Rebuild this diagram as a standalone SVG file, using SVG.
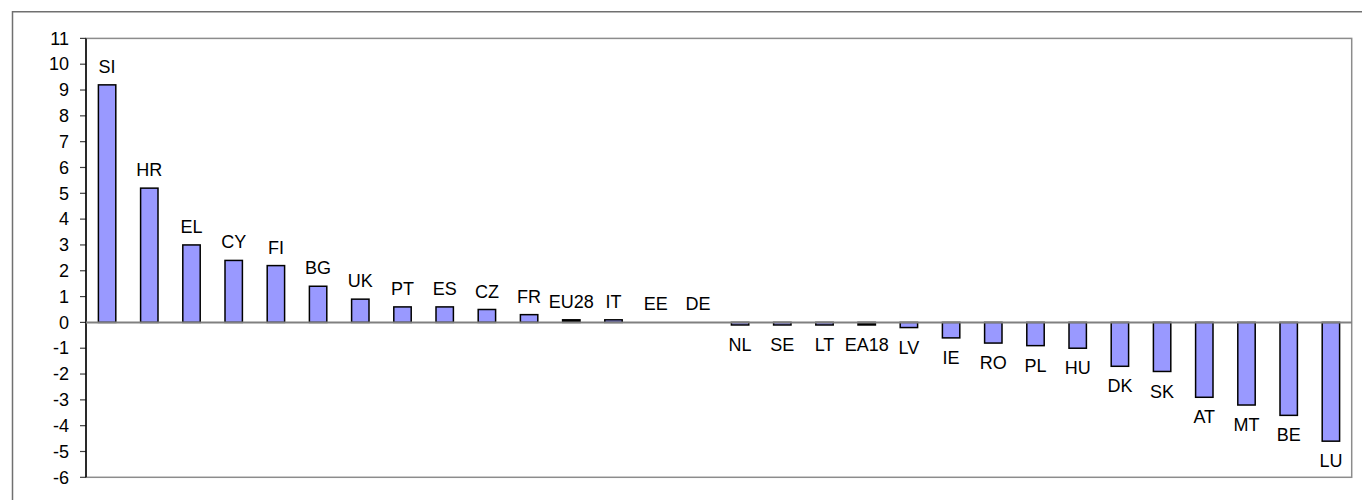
<svg xmlns="http://www.w3.org/2000/svg" width="1362" height="500" viewBox="0 0 1362 500">
<style>
text{font-family:"Liberation Sans",Arial,sans-serif;font-size:18px;fill:#000}
.tl{text-anchor:end}
.bl{text-anchor:middle}
.bar{fill:#9999FF;stroke:#000;stroke-width:1.5}
.bk{fill:#000;stroke:#000;stroke-width:1.5}
.tk{stroke:#404040;stroke-width:1.2}
</style>
<rect width="1362" height="500" fill="#fff"/>
<g id="frame">
<path d="M12.5 510 V11.7 H1370" fill="none" stroke="#707070" stroke-width="1.5"/>
<rect x="86" y="38.4" width="1265.7" height="438.9" fill="#fff" stroke="#8c8c8c" stroke-width="1.5"/>
</g>
<g id="axis">
<g class="tk">
<line x1="80" y1="38.38" x2="86" y2="38.38"/><line x1="80" y1="64.2" x2="86" y2="64.2"/><line x1="80" y1="90.02" x2="86" y2="90.02"/><line x1="80" y1="115.84" x2="86" y2="115.84"/><line x1="80" y1="141.66" x2="86" y2="141.66"/><line x1="80" y1="167.48" x2="86" y2="167.48"/><line x1="80" y1="193.3" x2="86" y2="193.3"/><line x1="80" y1="219.12" x2="86" y2="219.12"/><line x1="80" y1="244.94" x2="86" y2="244.94"/><line x1="80" y1="270.76" x2="86" y2="270.76"/><line x1="80" y1="296.58" x2="86" y2="296.58"/><line x1="80" y1="322.4" x2="86" y2="322.4"/><line x1="80" y1="348.22" x2="86" y2="348.22"/><line x1="80" y1="374.04" x2="86" y2="374.04"/><line x1="80" y1="399.86" x2="86" y2="399.86"/><line x1="80" y1="425.68" x2="86" y2="425.68"/><line x1="80" y1="451.5" x2="86" y2="451.5"/><line x1="80" y1="477.32" x2="86" y2="477.32"/>
</g>
<line x1="86" y1="38.4" x2="86" y2="477.3" stroke="#000" stroke-width="1.5"/>
<text class="tl" x="69" y="44.6">11</text><text class="tl" x="69" y="70.4">10</text><text class="tl" x="69" y="96.2">9</text><text class="tl" x="69" y="122">8</text><text class="tl" x="69" y="147.9">7</text><text class="tl" x="69" y="173.7">6</text><text class="tl" x="69" y="199.5">5</text><text class="tl" x="69" y="225.3">4</text><text class="tl" x="69" y="251.1">3</text><text class="tl" x="69" y="277">2</text><text class="tl" x="69" y="302.8">1</text><text class="tl" x="69" y="328.6">0</text><text class="tl" x="69" y="354.4">-1</text><text class="tl" x="69" y="380.2">-2</text><text class="tl" x="69" y="406.1">-3</text><text class="tl" x="69" y="431.9">-4</text><text class="tl" x="69" y="457.7">-5</text><text class="tl" x="69" y="483.5">-6</text>
</g>
<g id="bars">
<rect class="bar" x="98.4" y="84.86" width="17.4" height="237.54"/>
<rect class="bar" x="140.6" y="188.14" width="17.4" height="134.26"/>
<rect class="bar" x="182.8" y="244.94" width="17.4" height="77.46"/>
<rect class="bar" x="225" y="260.43" width="17.4" height="61.97"/>
<rect class="bar" x="267.2" y="265.6" width="17.4" height="56.8"/>
<rect class="bar" x="309.4" y="286.25" width="17.4" height="36.15"/>
<rect class="bar" x="351.6" y="299.16" width="17.4" height="23.24"/>
<rect class="bar" x="393.8" y="306.91" width="17.4" height="15.49"/>
<rect class="bar" x="436" y="306.91" width="17.4" height="15.49"/>
<rect class="bar" x="478.2" y="309.49" width="17.4" height="12.91"/>
<rect class="bar" x="520.4" y="314.65" width="17.4" height="7.75"/>
<rect class="bk" x="562.6" y="319.82" width="17.4" height="2.58"/>
<rect class="bar" x="604.8" y="319.82" width="17.4" height="2.58"/>
<rect class="bar" x="731.4" y="322.4" width="17.4" height="2.58"/>
<rect class="bar" x="773.6" y="322.4" width="17.4" height="2.58"/>
<rect class="bar" x="815.8" y="322.4" width="17.4" height="2.58"/>
<rect class="bk" x="858" y="322.4" width="17.4" height="2.58"/>
<rect class="bar" x="900.2" y="322.4" width="17.4" height="5.16"/>
<rect class="bar" x="942.4" y="322.4" width="17.4" height="15.49"/>
<rect class="bar" x="984.6" y="322.4" width="17.4" height="20.66"/>
<rect class="bar" x="1026.8" y="322.4" width="17.4" height="23.24"/>
<rect class="bar" x="1069" y="322.4" width="17.4" height="25.82"/>
<rect class="bar" x="1111.2" y="322.4" width="17.4" height="43.89"/>
<rect class="bar" x="1153.4" y="322.4" width="17.4" height="49.06"/>
<rect class="bar" x="1195.6" y="322.4" width="17.4" height="74.88"/>
<rect class="bar" x="1237.8" y="322.4" width="17.4" height="82.62"/>
<rect class="bar" x="1280" y="322.4" width="17.4" height="92.95"/>
<rect class="bar" x="1322.2" y="322.4" width="17.4" height="118.77"/>
</g>
<g id="connectors">
<line x1="86" y1="322.4" x2="1352" y2="322.4" stroke="#808080" stroke-width="2"/>
</g>
<g id="labels">
<text class="bl" x="107.1" y="72.9">SI</text>
<text class="bl" x="149.3" y="176.1">HR</text>
<text class="bl" x="191.5" y="232.9">EL</text>
<text class="bl" x="233.7" y="248.4">CY</text>
<text class="bl" x="275.9" y="253.6">FI</text>
<text class="bl" x="318.1" y="274.2">BG</text>
<text class="bl" x="360.3" y="287.2">UK</text>
<text class="bl" x="402.5" y="294.9">PT</text>
<text class="bl" x="444.7" y="294.9">ES</text>
<text class="bl" x="486.9" y="297.5">CZ</text>
<text class="bl" x="529.1" y="302.6">FR</text>
<text class="bl" x="571.3" y="307.8">EU28</text>
<text class="bl" x="613.5" y="307.8">IT</text>
<text class="bl" x="655.7" y="310">EE</text>
<text class="bl" x="697.9" y="310">DE</text>
<text class="bl" x="740.1" y="351">NL</text>
<text class="bl" x="782.3" y="351">SE</text>
<text class="bl" x="824.5" y="351">LT</text>
<text class="bl" x="866.7" y="351">EA18</text>
<text class="bl" x="908.9" y="353.6">LV</text>
<text class="bl" x="951.1" y="363.9">IE</text>
<text class="bl" x="993.3" y="369.1">RO</text>
<text class="bl" x="1035.5" y="371.6">PL</text>
<text class="bl" x="1077.7" y="374.2">HU</text>
<text class="bl" x="1119.9" y="392.3">DK</text>
<text class="bl" x="1162.1" y="397.5">SK</text>
<text class="bl" x="1204.3" y="423.3">AT</text>
<text class="bl" x="1246.5" y="431">MT</text>
<text class="bl" x="1288.7" y="441.4">BE</text>
<text class="bl" x="1330.9" y="467.2">LU</text>
</g>
</svg>
